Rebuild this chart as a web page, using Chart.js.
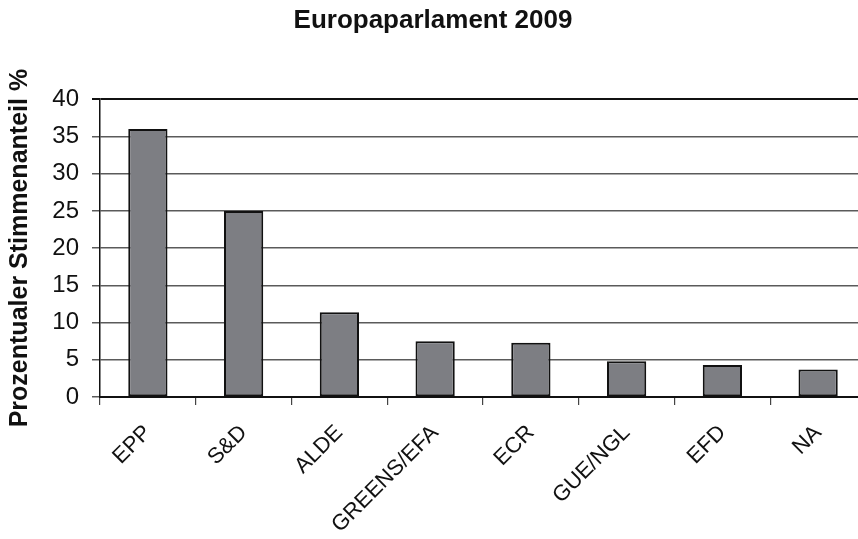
<!DOCTYPE html>
<html lang="de">
<head>
  <meta charset="UTF-8" />
  <title>Europaparlament 2009</title>
  <script src="https://cdn.jsdelivr.net/npm/chart.js"></script>
  <style>
    html, body { margin: 0; padding: 0; background: #fff; overflow: hidden; }
    .wrap { width: 858px; height: 539px; overflow: hidden; }
    .box { width: 866px; height: 539px; }
  </style>
</head>
<body>
  <div class="wrap"><div class="box"><canvas id="epChart"></canvas></div></div>

  <script>
    // Fraktionen und Stimmenanteil in Prozent
    const parties = ['EPP', 'S&D', 'ALDE', 'GREENS/EFA', 'ECR', 'GUE/NGL', 'EFD', 'NA'];
    const shares = [36.0, 25.0, 11.4, 7.5, 7.3, 4.8, 4.3, 3.7];
    const yTicks = [0, 5, 10, 15, 20, 25, 30, 35, 40];

    const font = "'Liberation Sans', Arial, sans-serif";

    new Chart(document.getElementById('epChart'), {
      type: 'bar',
      data: {
        labels: parties,
        datasets: [{
          data: shares,
          backgroundColor: '#7d7e83',
          borderColor: '#111',
          borderWidth: 2,
          borderSkipped: false,
          categoryPercentage: 1,
          barPercentage: 0.41
        }]
      },
      options: {
        responsive: true,
        maintainAspectRatio: false,
        animation: false,
        layout: { padding: 0 },
        plugins: {
          legend: { display: false },
          tooltip: { enabled: false },
          title: {
            display: true,
            text: 'Europaparlament 2009',
            color: '#111',
            font: { family: font, size: 26, weight: 'bold' },
            padding: { top: 5, bottom: 63 }
          }
        },
        scales: {
          x: {
            afterFit: s => { s.height = 142; },
            grid: {
              offset: true,
              drawOnChartArea: false,
              drawTicks: true,
              tickLength: 8,
              color: '#444',
              lineWidth: 1.2
            },
            border: { color: '#111', width: 2 },
            ticks: {
              color: '#111',
              font: { family: font, size: 22 },
              minRotation: 45,
              maxRotation: 45,
              padding: 15
            }
          },
          y: {
            min: 0,
            max: 40,
            afterFit: s => { s.width = 100; },
            afterBuildTicks: s => { s.ticks = yTicks.map(v => ({ value: v })); },
            grid: {
              color: ctx => ctx.tick && ctx.tick.value === 40 ? '#111' : '#5a5a5a',
              lineWidth: ctx => ctx.tick && ctx.tick.value === 40 ? 2 : 1.5,
              tickLength: 8
            },
            border: { color: '#111', width: 1.5 },
            ticks: {
              color: '#111',
              font: { family: font, size: 24 },
              padding: 13
            },
            title: {
              display: true,
              text: 'Prozentualer Stimmenanteil %',
              color: '#111',
              font: { family: font, size: 25, weight: 'bold' },
              padding: { top: 5, bottom: 0 }
            }
          }
        }
      }
    });
  </script>
</body>
</html>
